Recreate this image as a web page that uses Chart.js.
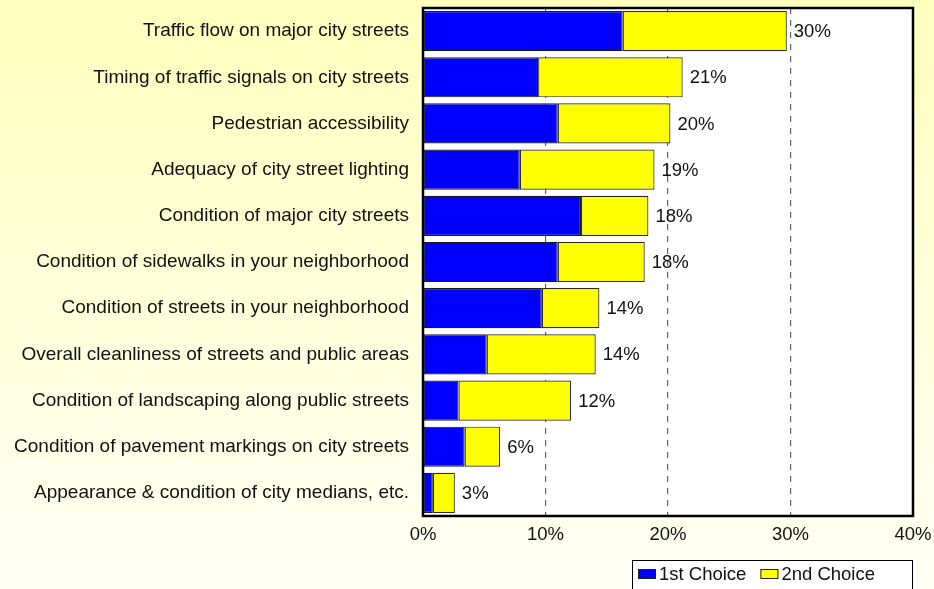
<!DOCTYPE html>
<html>
<head>
<meta charset="utf-8">
<script src="https://cdn.jsdelivr.net/npm/chart.js@4/dist/chart.umd.min.js"></script>
<style>
  html, body { margin: 0; padding: 0; }
  #wrap { width: 934px; height: 589px; }
</style>
</head>
<body>
<div id="wrap"><canvas id="priorities"></canvas></div>
<script>
'use strict';

const categories = [
  'Traffic flow on major city streets',
  'Timing of traffic signals on city streets',
  'Pedestrian accessibility',
  'Adequacy of city street lighting',
  'Condition of major city streets',
  'Condition of sidewalks in your neighborhood',
  'Condition of streets in your neighborhood',
  'Overall cleanliness of streets and public areas',
  'Condition of landscaping along public streets',
  'Condition of pavement markings on city streets',
  'Appearance & condition of city medians, etc.'
];

const firstChoice = [16.3, 9.4, 11.0, 7.9, 12.9, 11.0, 9.7, 5.2, 2.9, 3.4, 0.8];
const secondChoice = [13.4, 11.8, 9.2, 11.0, 5.5, 7.1, 4.7, 8.9, 9.2, 2.9, 1.8];
const seriesNames = ['1st Choice', '2nd Choice'];
const xTicks = [0, 10, 20, 30, 40];

const FONT = "'Liberation Sans', Arial, sans-serif";
const TEXT = '#111';

// yellow wash behind everything, white plot area
const backdrop = {
  id: 'backdrop',
  beforeDraw(chart) {
    const { ctx, width, height, chartArea: a } = chart;
    const g = ctx.createLinearGradient(0, 0, 0, height);
    g.addColorStop(0, '#ffffbe');
    g.addColorStop(1, '#fffff6');
    ctx.save();
    ctx.fillStyle = g;
    ctx.fillRect(0, 0, width, height);
    ctx.fillStyle = '#fff';
    ctx.fillRect(a.left, a.top, a.right - a.left, a.bottom - a.top);
    ctx.restore();
  }
};

// total of both choices written after each bar
const totals = {
  id: 'totals',
  afterDatasetsDraw(chart) {
    const { ctx } = chart;
    const last = chart.getDatasetMeta(chart.data.datasets.length - 1);
    ctx.save();
    ctx.font = '18.5px ' + FONT;
    ctx.fillStyle = TEXT;
    ctx.textAlign = 'left';
    ctx.textBaseline = 'middle';
    last.data.forEach((bar, i) => {
      const sum = firstChoice[i] + secondChoice[i];
      ctx.fillText(Math.round(sum) + '%', bar.x + 7, bar.y + 1);
    });
    ctx.restore();
  }
};

// frame round the plot and the boxed legend underneath
const frame = {
  id: 'frame',
  afterDraw(chart) {
    const { ctx, chartArea: a } = chart;
    ctx.save();
    ctx.strokeStyle = '#000';
    ctx.lineWidth = 2.5;
    ctx.strokeRect(a.left, a.top, a.right - a.left, a.bottom - a.top);

    ctx.font = '18.5px ' + FONT;
    const boxW = 18, boxH = 10, pad = 6, gap = 3, itemGap = 14;
    const right = a.right;
    const left = right - 281;
    const top = a.bottom + 44;

    ctx.lineWidth = 1;
    ctx.strokeStyle = '#000';
    ctx.fillStyle = '#fff';
    ctx.fillRect(left, top, right - left, 40);
    ctx.strokeRect(left + 0.5, top + 0.5, right - left - 1, 40);

    let x = left + pad;
    const cy = top + 14;
    chart.data.datasets.forEach(ds => {
      ctx.fillStyle = ds.backgroundColor;
      ctx.fillRect(x, cy - boxH / 2, boxW, boxH);
      ctx.strokeStyle = '#222';
      ctx.strokeRect(x + 0.5, cy - boxH / 2 + 0.5, boxW - 1, boxH - 1);
      x += boxW + gap;
      ctx.fillStyle = TEXT;
      ctx.textAlign = 'left';
      ctx.textBaseline = 'middle';
      ctx.fillText(ds.label, x, cy + 1);
      x += ctx.measureText(ds.label).width + itemGap;
    });
    ctx.restore();
  }
};

const ctx = document.querySelector('#priorities').getContext('2d');

const priorityChart = new Chart(ctx, {
  type: 'bar',
  data: {
    labels: categories,
    datasets: [{
      label: seriesNames[0],
      data: firstChoice,
      backgroundColor: '#0000ff',
      borderColor: '#1a1a1a',
      borderWidth: 1.2,
      borderSkipped: false,
      barPercentage: 0.87,
      categoryPercentage: 1
    }, {
      label: seriesNames[1],
      data: secondChoice,
      backgroundColor: '#ffff00',
      borderColor: '#2a2a2a',
      borderWidth: 1.2,
      borderSkipped: false,
      barPercentage: 0.87,
      categoryPercentage: 1
    }]
  },
  options: {
    indexAxis: 'y',
    responsive: true,
    maintainAspectRatio: false,
    animation: false,
    layout: {
      padding: { top: 8, right: 21, left: 0, bottom: 0 }
    },
    scales: {
      x: {
        stacked: true,
        min: xTicks[0],
        max: xTicks[xTicks.length - 1],
        afterBuildTicks(scale) {
          scale.ticks = xTicks.map(v => ({ value: v }));
        },
        afterFit(scale) {
          scale.height = 73;
          scale.paddingLeft = 0;
          scale.paddingRight = 0;
        },
        ticks: {
          callback: v => v + '%',
          color: TEXT,
          font: { family: FONT, size: 18.5 },
          padding: 8,
          maxRotation: 0
        },
        grid: {
          color: '#666',
          lineWidth: 1.2,
          drawTicks: false
        },
        border: { display: false, dash: [6, 6] }
      },
      y: {
        stacked: true,
        afterFit(scale) {
          scale.width = 423;
          scale.paddingTop = 0;
          scale.paddingBottom = 0;
        },
        ticks: {
          color: TEXT,
          font: { family: FONT, size: 19 },
          padding: 14,
          autoSkip: false
        },
        grid: { display: false, drawTicks: false },
        border: { display: false }
      }
    },
    plugins: {
      legend: { display: false },
      tooltip: { enabled: false }
    }
  },
  plugins: [backdrop, totals, frame]
});
</script>
</body>
</html>
